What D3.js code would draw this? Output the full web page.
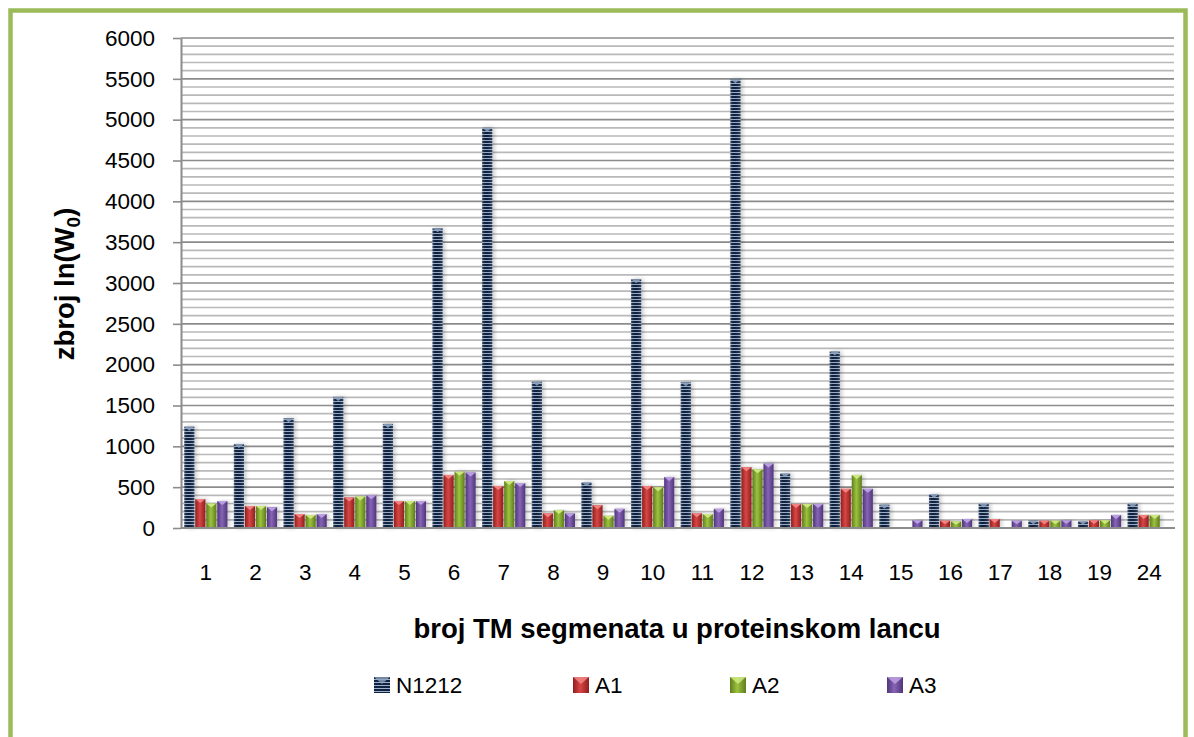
<!DOCTYPE html>
<html>
<head>
<meta charset="utf-8">
<script src="https://cdn.jsdelivr.net/npm/d3@7"></script>
<style>
  html, body { margin: 0; padding: 0; background: #fff; }
  svg { display: block; }
  text { font-family: "Liberation Sans", Arial, sans-serif; fill: #000; }
</style>
</head>
<body>
<svg id="chart" width="1194" height="737"></svg>
<script>
// ---- data ----
const categories = ["1","2","3","4","5","6","7","8","9","10","11","12","13","14","15","16","17","18","19","24"];
const seriesNames = ["N1212", "A1", "A2", "A3"];
const N1212 = [1240, 1030, 1345, 1605, 1275, 3670, 4900, 1790, 560, 3045, 1785, 5495, 670, 2160, 285, 415, 300, 90, 85, 300];
const A1    = [355, 270, 170, 375, 330, 650, 515, 180, 280, 515, 180, 745, 295, 480, 0, 90, 110, 90, 95, 160];
const A2    = [300, 270, 160, 385, 330, 690, 575, 220, 150, 500, 170, 720, 295, 650, 0, 80, 0, 90, 95, 160];
const A3    = [330, 255, 170, 400, 330, 680, 550, 180, 235, 625, 235, 790, 295, 480, 95, 110, 90, 95, 160, 0];
const yTicks = [0, 500, 1000, 1500, 2000, 2500, 3000, 3500, 4000, 4500, 5000, 5500, 6000];

const seriesValues = { N1212, A1, A2, A3 };
const rows = categories.map((c, i) => ({ cat: c, vals: seriesNames.map(s => ({ key: s, value: seriesValues[s][i] })) }));

// ---- layout ----
const svg = d3.select("#chart");
const plot = { left: 181, right: 1174, top: 38, bottom: 528 };

const x = d3.scaleBand().domain(categories).range([plot.left, plot.right]).paddingInner(0.13).paddingOuter(0.065);
const xs = d3.scaleBand().domain(seriesNames).range([0, x.bandwidth()]).paddingInner(0.08);
const y = d3.scaleLinear().domain([0, 6000]).range([plot.bottom, plot.top]);

// ---- defs ----
const defs = svg.append("defs");
const pat = defs.append("pattern").attr("id", "navyStripe").attr("patternUnits", "userSpaceOnUse")
  .attr("width", 6).attr("height", 3);
pat.append("rect").attr("width", 6).attr("height", 3).attr("fill", "#0f2242");
pat.append("rect").attr("y", 2).attr("width", 6).attr("height", 1).attr("fill", "#9fb0c8");

const colors = {
  N1212: { edge: "#0c1a33", mid: "#2c4468", top: "#8da2bf" },
  A1: { edge: "#8f1f1f", mid: "#d84644", top: "#f58a88" },
  A2: { edge: "#5f7d1c", mid: "#9cc23f", top: "#d3ec88" },
  A3: { edge: "#4f357a", mid: "#8764b6", top: "#c0a6e6" }
};
seriesNames.forEach(s => {
  const g = defs.append("linearGradient").attr("id", "grad-" + s).attr("x1", 0).attr("x2", 1).attr("y1", 0).attr("y2", 0);
  g.append("stop").attr("offset", "0%").attr("stop-color", colors[s].edge);
  g.append("stop").attr("offset", "45%").attr("stop-color", colors[s].mid);
  g.append("stop").attr("offset", "100%").attr("stop-color", colors[s].edge);
});
const ov = defs.append("linearGradient").attr("id", "navyOverlay").attr("x1", 0).attr("x2", 1);
ov.append("stop").attr("offset", "0%").attr("stop-color", "#c8d4e4").attr("stop-opacity", 0.3);
ov.append("stop").attr("offset", "35%").attr("stop-color", "#000").attr("stop-opacity", 0.0);
ov.append("stop").attr("offset", "100%").attr("stop-color", "#c8d4e4").attr("stop-opacity", 0.2);

const shadow = defs.append("filter").attr("id", "shadow").attr("x", "-50%").attr("y", "-5%").attr("width", "200%").attr("height", "110%");
shadow.append("feDropShadow").attr("dx", 2).attr("dy", 0).attr("stdDeviation", 2).attr("flood-color", "#000").attr("flood-opacity", 0.22);

// ---- outer border ----
svg.append("rect").attr("x", 10.5).attr("y", 10.5).attr("width", 1175).attr("height", 800)
  .attr("fill", "none").attr("stroke", "#9bbb59").attr("stroke-width", 4.5);

// ---- gridlines ----
const minor = d3.range(0, 6001, 100).filter(v => v % 500 !== 0);
svg.append("g").selectAll("line").data(minor).join("line")
  .attr("x1", plot.left).attr("x2", plot.right)
  .attr("y1", d => y(d)).attr("y2", d => y(d))
  .attr("stroke", "#b9b9b9").attr("stroke-width", 1.6);
svg.append("g").selectAll("line").data(yTicks.filter(v => v > 0)).join("line")
  .attr("x1", plot.left).attr("x2", plot.right)
  .attr("y1", d => y(d)).attr("y2", d => y(d))
  .attr("stroke", "#8c8c8c").attr("stroke-width", 1.6);

// ---- y axis ----
const yAxis = svg.append("g").attr("transform", `translate(${plot.left},0)`)
  .call(d3.axisLeft(y).tickValues(yTicks).tickSize(8).tickSizeOuter(0).tickPadding(18).tickFormat(d3.format("d")));
yAxis.select(".domain").attr("stroke", "#8c8c8c").attr("stroke-width", 2);
yAxis.selectAll(".tick line").attr("stroke", "#8c8c8c").attr("stroke-width", 1.6);
yAxis.selectAll(".tick text").style("font-size", "22.5px").style("font-family", "'Liberation Sans', Arial, sans-serif").attr("fill", "#000");

// ---- bars ----
const groups = svg.append("g").selectAll("g").data(rows).join("g")
  .attr("transform", d => `translate(${x(d.cat)},0)`);
const bars = groups.selectAll("g.bar").data(d => d.vals.filter(v => v.value > 0)).join("g").attr("class", "bar")
  .attr("filter", "url(#shadow)");
bars.append("rect")
  .attr("x", d => xs(d.key)).attr("width", xs.bandwidth())
  .attr("y", d => y(d.value)).attr("height", d => y(0) - y(d.value))
  .attr("fill", d => d.key === "N1212" ? "url(#navyStripe)" : `url(#grad-${d.key})`);
bars.filter(d => d.key === "N1212").append("rect")
  .attr("x", d => xs(d.key)).attr("width", xs.bandwidth())
  .attr("y", d => y(d.value)).attr("height", d => y(0) - y(d.value))
  .attr("fill", "url(#navyOverlay)");
bars.append("path")
  .attr("d", d => {
    const x0 = xs(d.key), w = xs.bandwidth(), t = y(d.value);
    const h = Math.min(4, (y(0) - t) / 2);
    return `M${x0},${t}L${x0 + w},${t}L${x0 + w / 2},${t + h}Z`;
  })
  .attr("fill", d => colors[d.key].top).attr("opacity", 0.9);

// ---- x axis ----
svg.append("line").attr("x1", plot.left).attr("x2", plot.right + 1).attr("y1", plot.bottom).attr("y2", plot.bottom)
  .attr("stroke", "#8c8c8c").attr("stroke-width", 2);
const xAxis = svg.append("g").attr("transform", `translate(0,${plot.bottom})`)
  .call(d3.axisBottom(x).tickSize(0).tickPadding(36));
xAxis.select(".domain").remove();
xAxis.selectAll(".tick text").style("font-size", "22.5px").style("font-family", "'Liberation Sans', Arial, sans-serif").attr("fill", "#000");

// ---- axis titles ----
svg.append("text").attr("x", 677).attr("y", 638).attr("text-anchor", "middle")
  .style("font-size", "27.5px").style("font-weight", "bold").text("broj TM segmenata u proteinskom lancu");
const yt = svg.append("text").attr("transform", "translate(74,284) rotate(-90)").attr("text-anchor", "middle")
  .style("font-size", "27.5px").style("font-weight", "bold");
yt.append("tspan").text("zbroj ln(W");
yt.append("tspan").attr("dy", 6).style("font-size", "19px").text("0");
yt.append("tspan").attr("dy", -6).text(")");

// ---- legend ----
const legendX = [374, 573, 730, 887];
const leg = svg.append("g").selectAll("g").data(seriesNames).join("g")
  .attr("transform", (d, i) => `translate(${legendX[i]},677)`);
leg.append("rect").attr("width", 16).attr("height", 16)
  .attr("fill", d => d === "N1212" ? "url(#navyStripe)" : `url(#grad-${d})`);
leg.append("path").attr("d", "M0,0L16,0L8,7Z").attr("fill", d => colors[d].top).attr("opacity", 0.8);
leg.append("text").attr("x", 22).attr("y", 16).style("font-size", "22.5px").text(d => d);
</script>
</body>
</html>
